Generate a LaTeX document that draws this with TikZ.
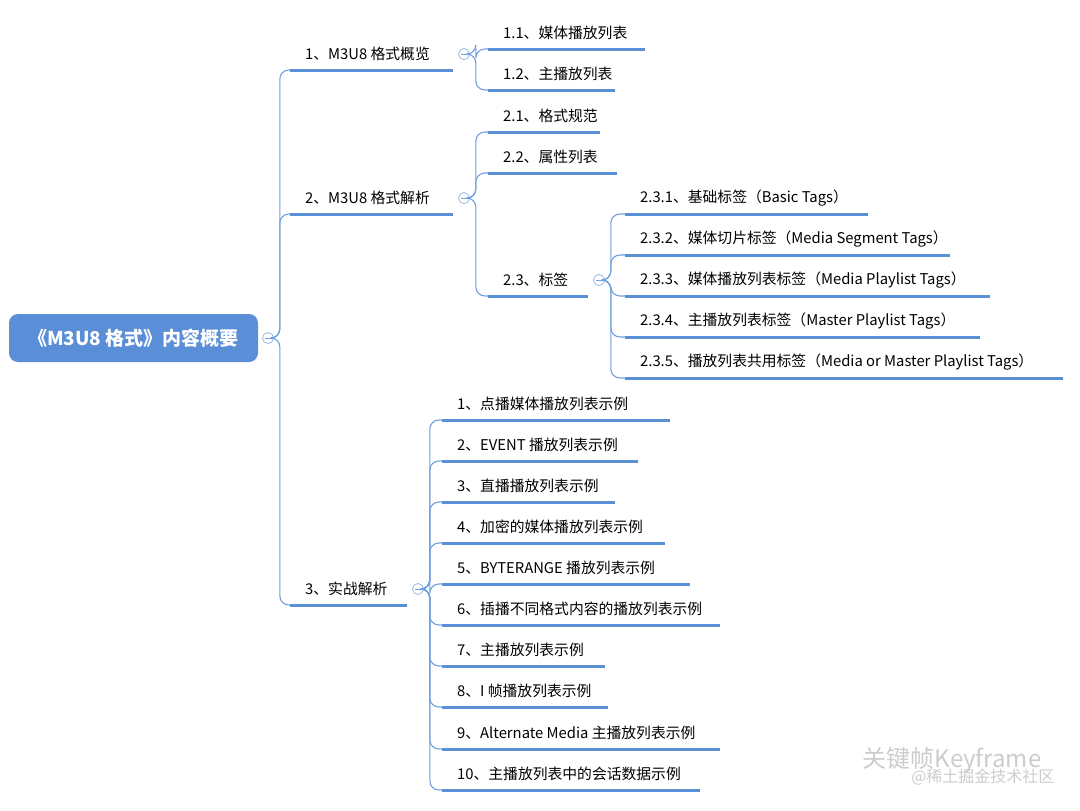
\documentclass[tikz,border=0pt]{standalone}
\usepackage{fontspec}
\setmainfont{Noto Sans CJK SC}
\definecolor{mapblue}{HTML}{5A8ED6}
\definecolor{linkblue}{HTML}{6F9FDD}
\tikzset{
  topic/.style={anchor=west, inner sep=0pt, font=\fontsize{14.8}{16}\selectfont},
  uline/.style={draw=mapblue, line width=3pt},
  branch/.style={draw=linkblue, line width=1.1pt, rounded corners=9pt},
  fold/.style={circle, draw=linkblue!80, fill=white, inner sep=0pt, minimum size=11pt, line width=0.7pt,
    path picture={\draw[linkblue, line width=0.7pt] ([xshift=-3pt]path picture bounding box.center) -- ([xshift=3pt]path picture bounding box.center);}},
}
\begin{document}
\begin{tikzpicture}[x=1pt,y=-1pt]
	\useasboundingbox (0,0) rectangle (1080,811);
	% #1 name, #2 x of underline start, #3 text y, #4 underline end, #5 text
	\newcommand{\topicline}[5]{
		\node[topic] (#1) at (#2+15,#3) {#5};
		\coordinate (#1-l) at (#2,#3+16);
		\coordinate (#1-r) at (#4,#3+16);
		\draw[uline] (#1-l) -- (#1-r);
	}
	\newcommand{\link}[2]{\draw[branch] (#1.east) -- ++(6,0) |- (#2-l);}
	% root
	\node[fill=mapblue, rounded corners=9pt, minimum width=249pt, minimum height=48pt, text=white,
	  font=\fontsize{19}{21}\selectfont\bfseries] (root) at (133.5,338) {《M3U8 格式》内容概要};
	\node[fold] (root-f) at (268,338) {};
	% level 1
	\topicline{m1}{290}{54}{453}{1、M3U8 格式概览}
	\topicline{m2}{290}{198}{453}{2、M3U8 格式解析}
	\topicline{m3}{290}{589}{407}{3、实战解析}
	\node[fold] (m1-f) at (464,54) {};
	\node[fold] (m2-f) at (464,198) {};
	\node[fold] (m3-f) at (418,589) {};
	\foreach \c in {m1,m2,m3} \link{root-f}{\c};
	% part 1
	\topicline{s11}{488}{33}{645}{1.1、媒体播放列表}
	\topicline{s12}{488}{74}{615}{1.2、主播放列表}
	\foreach \c in {s11,s12} \link{m1-f}{\c};
	% part 2
	\topicline{s21}{488}{116}{600}{2.1、格式规范}
	\topicline{s22}{488}{157}{617}{2.2、属性列表}
	\topicline{s23}{488}{280}{588}{2.3、标签}
	\node[fold] (s23-f) at (599,280) {};
	\foreach \c in {s21,s22,s23} \link{m2-f}{\c};
	\topicline{t1}{625}{198}{868}{2.3.1、基础标签（Basic Tags）}
	\topicline{t2}{625}{239}{950}{2.3.2、媒体切片标签（Media Segment Tags）}
	\topicline{t3}{625}{280}{990}{2.3.3、媒体播放列表标签（Media Playlist Tags）}
	\topicline{t4}{625}{321}{980}{2.3.4、主播放列表标签（Master Playlist Tags）}
	\topicline{t5}{625}{362}{1063}{2.3.5、播放列表共用标签（Media or Master Playlist Tags）}
	\foreach \c in {t1,t2,t3,t4,t5} \link{s23-f}{\c};
	% part 3
	\topicline{e1}{442}{404}{670}{1、点播媒体播放列表示例}
	\topicline{e2}{442}{445}{638}{2、EVENT 播放列表示例}
	\topicline{e3}{442}{486}{615}{3、直播播放列表示例}
	\topicline{e4}{442}{527}{665}{4、加密的媒体播放列表示例}
	\topicline{e5}{442}{568}{690}{5、BYTERANGE 播放列表示例}
	\topicline{e6}{442}{609}{720}{6、插播不同格式内容的播放列表示例}
	\topicline{e7}{442}{650}{605}{7、主播放列表示例}
	\topicline{e8}{442}{691}{608}{8、I 帧播放列表示例}
	\topicline{e9}{442}{733}{720}{9、Alternate Media 主播放列表示例}
	\topicline{e10}{442}{774}{700}{10、主播放列表中的会话数据示例}
	\foreach \c in {e1,e2,e3,e4,e5,e6,e7,e8,e9,e10} \link{m3-f}{\c};
	% watermark
	\node[anchor=east, text=gray!40, font=\fontsize{24}{26}\selectfont] (mark) at (1045,760) {关键帧Keyframe};
	\node[anchor=east, text=gray!40, font=\fontsize{16}{18}\selectfont] (mark2) at (1058,777) {@稀土掘金技术社区};
\end{tikzpicture}
\end{document}
